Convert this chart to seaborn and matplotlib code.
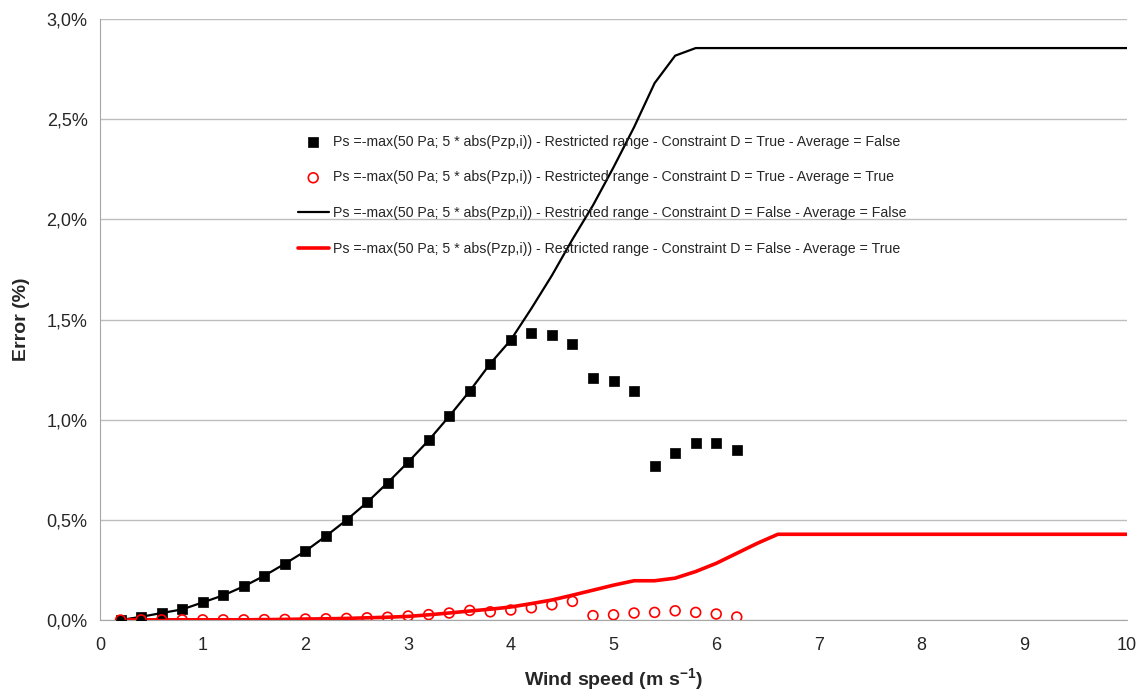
import numpy as np
import pandas as pd
import matplotlib
matplotlib.use("Agg")
import matplotlib.pyplot as plt
import seaborn as sns
from matplotlib.ticker import FuncFormatter

# wind speeds
ws_points = [0.2, 0.4, 0.6, 0.8, 1.0, 1.2, 1.4, 1.6, 1.8, 2.0, 2.2, 2.4, 2.6, 2.8, 3.0,
             3.2, 3.4, 3.6, 3.8, 4.0, 4.2, 4.4, 4.6, 4.8, 5.0, 5.2, 5.4, 5.6, 5.8, 6.0, 6.2]
ws_lines = ws_points + [6.4, 6.6, 6.8, 7.0, 7.2, 7.4, 7.6, 7.8, 8.0, 8.2, 8.4, 8.6, 8.8,
                        9.0, 9.2, 9.4, 9.6, 9.8, 10.0]

# Constraint D = True - Average = False (black squares)
err_d_true_avg_false = [0.0, 0.016, 0.035, 0.053, 0.088, 0.123, 0.168, 0.221, 0.281, 0.344,
                        0.419, 0.499, 0.587, 0.685, 0.788, 0.897, 1.017, 1.143, 1.28, 1.398,
                        1.435, 1.425, 1.38, 1.208, 1.195, 1.145, 0.77, 0.832, 0.885, 0.882, 0.847]
# Constraint D = True - Average = True (red circles)
err_d_true_avg_true = [0.0, 0.001, 0.001, 0.001, 0.001, 0.001, 0.001, 0.002, 0.003, 0.005,
                       0.006, 0.008, 0.011, 0.014, 0.02, 0.027, 0.035, 0.048, 0.041, 0.05,
                       0.061, 0.076, 0.093, 0.022, 0.026, 0.035, 0.038, 0.046, 0.038, 0.03, 0.015]
# Constraint D = False - Average = False (black line)
err_d_false_avg_false = [0.0, 0.016, 0.035, 0.053, 0.088, 0.123, 0.168, 0.221, 0.281, 0.344,
                         0.419, 0.499, 0.587, 0.685, 0.788, 0.897, 1.017, 1.143, 1.28, 1.398,
                         1.555, 1.72, 1.90, 2.07, 2.26, 2.46, 2.68, 2.817, 2.855, 2.855, 2.855,
                         2.855, 2.855, 2.855, 2.855, 2.855, 2.855, 2.855, 2.855, 2.855, 2.855,
                         2.855, 2.855, 2.855, 2.855, 2.855, 2.855, 2.855, 2.855, 2.855]
# Constraint D = False - Average = True (red line)
err_d_false_avg_true = [0.0, 0.001, 0.001, 0.001, 0.001, 0.001, 0.001, 0.002, 0.003, 0.005,
                        0.006, 0.008, 0.011, 0.014, 0.018, 0.026, 0.035, 0.045, 0.054, 0.065,
                        0.082, 0.10, 0.124, 0.149, 0.174, 0.196, 0.196, 0.209, 0.242, 0.283,
                        0.333, 0.383, 0.428, 0.428, 0.428, 0.428, 0.428, 0.428, 0.428, 0.428,
                        0.428, 0.428, 0.428, 0.428, 0.428, 0.428, 0.428, 0.428, 0.428, 0.428]

base = "Ps =-max(50 Pa; 5 * abs(Pzp,i)) - Restricted range - "
labels = [base + "Constraint D = True - Average = False",
          base + "Constraint D = True - Average = True",
          base + "Constraint D = False - Average = False",
          base + "Constraint D = False - Average = True"]

df_pts = pd.DataFrame({"ws": ws_points, "sq": err_d_true_avg_false, "ci": err_d_true_avg_true})
df_lines = pd.DataFrame({"ws": ws_lines, "bl": err_d_false_avg_false, "rl": err_d_false_avg_true})

sns.set_style("white")
plt.rcParams["font.family"] = ["Liberation Sans", "DejaVu Sans"]

fig = plt.figure(figsize=(11.47, 6.94), dpi=100)
ax = fig.add_axes([0.0872, 0.1066, 0.8954, 0.866])

sns.lineplot(data=df_lines, x="ws", y="bl", ax=ax, color="black", linewidth=1.6, label=labels[2])
sns.lineplot(data=df_lines, x="ws", y="rl", ax=ax, color="#ff0000", linewidth=2.6, label=labels[3])
sns.scatterplot(data=df_pts, x="ws", y="sq", ax=ax, marker="s", s=55, color="black",
                edgecolor="black", linewidth=0.5, label=labels[0], zorder=3)
sns.scatterplot(data=df_pts, x="ws", y="ci", ax=ax, marker="o", s=50, facecolor="none",
                edgecolor="#ff0000", linewidth=1.2, label=labels[1], zorder=3)

ax.set_xlim(0, 10)
ax.set_ylim(0, 3.0)
ax.set_xticks(range(0, 11))
ax.set_yticks(np.arange(0, 3.01, 0.5))
ax.yaxis.set_major_formatter(FuncFormatter(lambda v, p: f"{v:.1f}%".replace(".", ",")))
ax.grid(axis="y", color="#bdbdbd", linewidth=1)
ax.set_axisbelow(True)
for s in ["top", "right"]:
    ax.spines[s].set_visible(False)
for s in ["left", "bottom"]:
    ax.spines[s].set_color("#a6a6a6")
ax.tick_params(axis="x", which="major", direction="out", length=6, color="#a6a6a6",
               labelsize=13, pad=6)
ax.tick_params(axis="y", which="major", direction="out", length=5, color="#a6a6a6",
               labelsize=13, pad=4)
ax.set_xlabel("Wind speed (m s$^{\\mathregular{-1}}$)", fontsize=14, fontweight="bold", labelpad=9)
ax.set_ylabel("Error (%)", fontsize=14, fontweight="bold", labelpad=12)

h, l = ax.get_legend_handles_labels()
order = [l.index(x) for x in labels]
ax.legend([h[i] for i in order], [l[i] for i in order], loc="upper left",
          bbox_to_anchor=(0.18, 0.829), frameon=False, fontsize=10.2,
          labelspacing=1.55, handlelength=2.2, handletextpad=0.3)

fig.savefig("out.png", dpi=100)
